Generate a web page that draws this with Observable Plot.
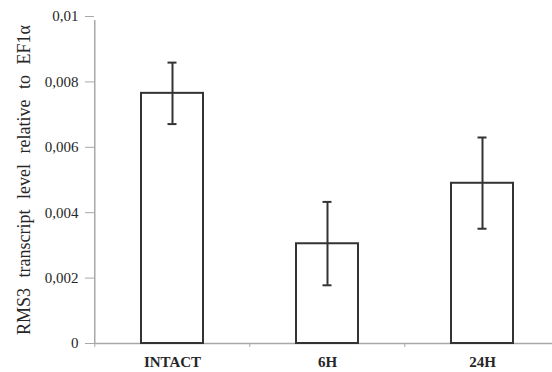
<!DOCTYPE html>
<html>
<head>
<meta charset="utf-8">
<script src="https://cdn.jsdelivr.net/npm/d3@7"></script>
<script src="https://cdn.jsdelivr.net/npm/@observablehq/plot@0.6"></script>
<style>
  html, body { margin: 0; padding: 0; background: #fff; }
</style>
</head>
<body>
<div id="chart"></div>
<script>
// Data
const categories = ["INTACT", "6H", "24H"];
const means = [0.00765, 0.00305, 0.0049];
const errLow = [0.00671, 0.00178, 0.00351];
const errHigh = [0.00859, 0.00433, 0.0063];
const yTicks = [0, 0.002, 0.004, 0.006, 0.008, 0.01];
const yTickLabels = ["0", "0,002", "0,004", "0,006", "0,008", "0,01"];
const yLabel = "RMS3 transcript level relative to EF1\u03b1";

const data = categories.map((c, i) => ({cat: c, v: means[i], lo: errLow[i], hi: errHigh[i]}));
const fmt = d => yTickLabels[yTicks.indexOf(d)];

const W = 552, H = 372;
const marginLeft = 94, marginTop = 16, marginBottom = 29;
const step = (560.5 - marginLeft) / categories.length;

const plot = Plot.plot({
  width: W,
  height: H,
  marginLeft,
  marginTop,
  marginBottom,
  marginRight: 0,
  style: {fontFamily: "'Liberation Serif', 'Times New Roman', serif", background: "#fff", color: "#262626"},
  x: {domain: categories, range: [marginLeft, 560.5], paddingInner: 0.6, paddingOuter: 0.3, axis: null},
  y: {domain: [0, 0.01], axis: null},
  marks: [
    // x axis line
    Plot.ruleY([0], {stroke: "#a8a8a8", strokeWidth: 1.5}),
    // y axis
    Plot.axisY({ticks: yTicks, tickFormat: fmt, tickSize: 9, tickPadding: 7, stroke: "#a8a8a8", fontSize: 15, fill: "#262626", label: null}),
    Plot.ruleX([categories[0]], {x: d => d, dx: -step / 2, y1: 0, y2: 0.01, insetBottom: -4, stroke: "#a8a8a8", strokeWidth: 1.5}),
    // x boundary ticks
    Plot.axisX({tickSize: 4, tickFormat: () => "", dx: -step / 2, stroke: "#a8a8a8", label: null}),
    // x labels
    Plot.axisX({tickSize: 0, tickPadding: 13, fontSize: 15, fontWeight: "bold", fill: "#262626", label: null}),
    // bars
    Plot.barY(data, {x: "cat", y: "v", fill: "white", stroke: "#333", strokeWidth: 2}),
    // error bars
    Plot.ruleX(data, {x: "cat", y1: "lo", y2: "hi", stroke: "#333", strokeWidth: 2}),
    Plot.tickY(data, {x: "cat", y: "lo", stroke: "#333", strokeWidth: 2, insetLeft: 26.5, insetRight: 26.5}),
    Plot.tickY(data, {x: "cat", y: "hi", stroke: "#333", strokeWidth: 2, insetLeft: 26.5, insetRight: 26.5}),
    // y label
    Plot.text([yLabel], {frameAnchor: "left", rotate: -90, dx: -70, textAnchor: "middle", text: d => d, fontSize: 18, fill: "#262626"})
  ]
});

plot.querySelectorAll("text").forEach(t => {
  if (t.textContent.startsWith("RMS3")) t.style.wordSpacing = "6px";
});

document.getElementById("chart").appendChild(plot);
</script>
</body>
</html>
